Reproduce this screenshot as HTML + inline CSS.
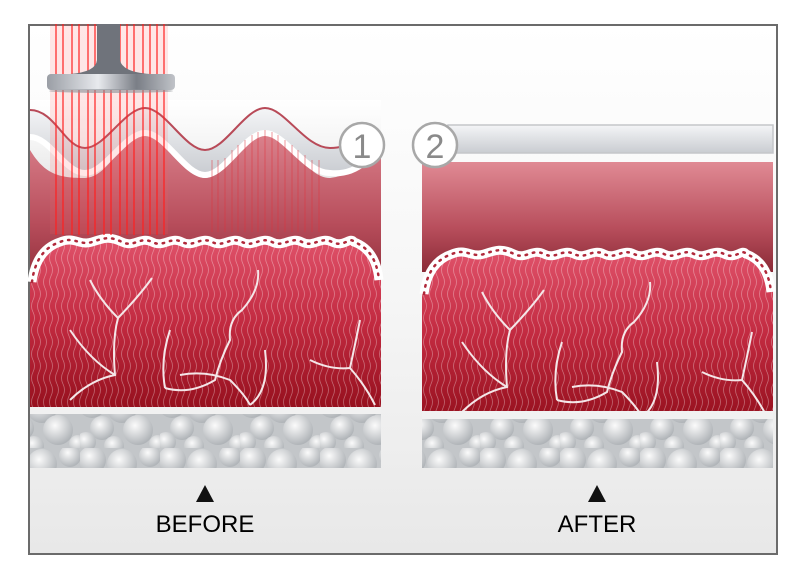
<!DOCTYPE html>
<html><head><meta charset="utf-8"><style>
html,body{margin:0;padding:0;background:#fff;}
svg{display:block;}
</style></head><body>
<svg width="800" height="582" viewBox="0 0 800 582" xmlns="http://www.w3.org/2000/svg">
<defs>
<linearGradient id="bg" x1="0" y1="0" x2="0" y2="1"><stop offset="0" stop-color="#fff"/><stop offset="0.5" stop-color="#f6f6f6"/><stop offset="1" stop-color="#e8e8e8"/></linearGradient>
<linearGradient id="pink" x1="0" y1="0" x2="0" y2="1"><stop offset="0" stop-color="#e08a94"/><stop offset="0.6" stop-color="#b84e5c"/><stop offset="1" stop-color="#8a2a36"/></linearGradient>
<linearGradient id="red" x1="0" y1="0" x2="0" y2="1"><stop offset="0" stop-color="#e0526a"/><stop offset="0.5" stop-color="#c22a40"/><stop offset="1" stop-color="#96101e"/></linearGradient>
<linearGradient id="gray" x1="0" y1="0" x2="0" y2="1"><stop offset="0" stop-color="#f4f5f7"/><stop offset="1" stop-color="#c9ccd1"/></linearGradient>
<linearGradient id="metal" x1="0" y1="0" x2="1" y2="0"><stop offset="0" stop-color="#9a9ea5"/><stop offset="0.4" stop-color="#e8eaee"/><stop offset="0.7" stop-color="#7a7e86"/><stop offset="1" stop-color="#c0c3c8"/></linearGradient>
<radialGradient id="ball" cx="0.4" cy="0.35" r="0.65"><stop offset="0" stop-color="#fbfbfb"/><stop offset="1" stop-color="#b0b4b8"/></radialGradient>
<pattern id="fib" width="6" height="24" patternUnits="userSpaceOnUse">
<path d="M3,0 Q6,6 3,12 Q0,18 3,24" fill="none" stroke="#fff" stroke-opacity="0.35" stroke-width="0.8"/>
</pattern>
<pattern id="fat" width="80" height="56" patternUnits="userSpaceOnUse">
<rect width="80" height="56" fill="#c3c6c9"/>
<circle cx="12" cy="12" r="14" fill="url(#ball)"/><circle cx="42" cy="16" r="15" fill="url(#ball)"/>
<circle cx="70" cy="8" r="11" fill="url(#ball)"/><circle cx="22" cy="36" r="12" fill="url(#ball)"/>
<circle cx="58" cy="38" r="15" fill="url(#ball)"/><circle cx="6" cy="50" r="10" fill="url(#ball)"/>
<circle cx="34" cy="54" r="10" fill="url(#ball)"/><circle cx="78" cy="52" r="9" fill="url(#ball)"/>
</pattern>
<g id="deep">
<path d="M0,408 L0,285 Q4,250 30,242 C44,236 50,246 62,242 S80,236 92,242 S110,236 122,242 S140,236 152,242 S170,236 182,242 S200,236 212,242 S230,236 242,242 S260,236 272,242 S290,236 302,242 S320,236 324,242 Q346,250 351,280 L351,408 Z" fill="url(#red)"/>
<path d="M0,408 L0,285 Q4,250 30,242 C44,236 50,246 62,242 S80,236 92,242 S110,236 122,242 S140,236 152,242 S170,236 182,242 S200,236 212,242 S230,236 242,242 S260,236 272,242 S290,236 302,242 S320,236 324,242 Q346,250 351,280 L351,408 Z" fill="url(#fib)"/>
<path d="M2,282 Q6,250 30,242 C44,236 50,246 62,242 S80,236 92,242 S110,236 122,242 S140,236 152,242 S170,236 182,242 S200,236 212,242 S230,236 242,242 S260,236 272,242 S290,236 302,242 S320,236 324,242 Q346,250 349,280" fill="none" stroke="#fff" stroke-width="9"/>
<path d="M2,282 Q6,250 30,242 C44,236 50,246 62,242 S80,236 92,242 S110,236 122,242 S140,236 152,242 S170,236 182,242 S200,236 212,242 S230,236 242,242 S260,236 272,242 S290,236 302,242 S320,236 324,242 Q346,250 349,280" fill="none" stroke="#b0283a" stroke-width="2.5" stroke-dasharray="1.5 6" stroke-linecap="round"/>
<g fill="none" stroke="#f4e6e8" stroke-width="2">
<path d="M40,400 Q60,380 85,375 Q82,340 88,318 Q70,300 60,280"/>
<path d="M88,318 Q110,295 122,278"/><path d="M85,375 Q60,360 40,330"/>
<path d="M135,388 Q130,360 140,330 M135,388 Q160,395 185,380 Q190,360 200,340 Q198,320 212,310 Q230,290 228,270"/>
<path d="M150,375 Q175,370 200,380 Q215,395 220,405 M220,405 Q240,390 235,350"/>
<path d="M280,360 Q300,370 320,368 Q335,385 345,405 M320,368 Q325,345 330,320"/>
</g>
</g>
</defs>
<rect x="0" y="0" width="800" height="582" fill="#fff"/>
<rect x="29" y="25" width="748" height="529" fill="url(#bg)" stroke="#6b6b6b" stroke-width="2"/>

<!-- LEFT -->
<rect x="30" y="120" width="351" height="170" fill="url(#pink)"/>
<path d="M30,150 C45,175 60,178 85,178 S125,130 145,130 S185,178 205,178 S245,130 265,130 S305,178 330,178 Q355,175 381,150 L381,100 L30,100 Z" fill="url(#bg)"/>
<path d="M30,110 C55,110 65,148 85,148 S125,108 145,108 S185,150 205,150 S245,108 265,108 S305,148 330,148 Q345,148 355,140 L360,165 Q345,178 330,173 C305,173 285,133 265,133 S225,175 205,175 S165,133 145,133 S105,173 85,173 S50,135 30,135 Z" fill="url(#gray)"/>
<path d="M30,110 C55,110 65,148 85,148 S125,108 145,108 S185,150 205,150 S245,108 265,108 S305,148 330,148 Q345,148 355,140" fill="none" stroke="#b84a58" stroke-width="2"/>
<path d="M30,137 C50,137 65,173 85,173 S125,133 145,133 S185,175 205,175 S245,133 265,133 S305,173 330,173 Q350,175 365,162" fill="none" stroke="#fff" stroke-width="6"/>
<use href="#deep" x="30" y="0"/>
<rect x="30" y="407" width="351" height="7" fill="#f1f1f1"/>
<rect x="30" y="414" width="351" height="54" fill="url(#fat)"/>
<!-- lasers -->
<rect x="50" y="24" width="118" height="210" fill="#ff6060" opacity="0.15"/>
<g stroke="#ff2020" stroke-width="1.5" opacity="0.8">
<path d="M56,24V235M63,24V235M72,24V235M79,24V235M88,24V235M95,24V235M104,24V235M111,24V235M120,24V235M127,24V235M134,24V235M143,24V235M150,24V235M157,24V235M164,24V235"/>
</g>
<g stroke="#e0303a" stroke-width="1" opacity="0.5">
<path d="M212,160V232M218,160V232M225,158V232M232,150V232M238,145V232M245,140V232M252,135V232M258,132V232M265,130V232M272,132V232M278,135V232M285,140V232M292,145V232M298,150V232M305,155V232M312,160V232M319,160V232"/>
</g>
<path d="M97,24 L120,24 L120,60 Q122,72 150,74 L100,74 L70,74 Q96,72 97,60 Z" fill="#6f737b"/>
<rect x="47" y="74" width="128" height="16" rx="4" fill="url(#metal)"/>
<ellipse cx="111" cy="91" rx="62" ry="2" fill="#8b8f96" opacity="0.6"/>
<circle cx="362" cy="145" r="22" fill="#fff" stroke="#a8a8a8" stroke-width="2.5"/>
<text x="362" y="158" text-anchor="middle" font-family="Liberation Sans, sans-serif" font-size="34" fill="#8a8a8a">1</text>

<!-- RIGHT -->
<rect x="422" y="162" width="351" height="110" fill="url(#pink)"/>
<rect x="448" y="125" width="325" height="28" fill="url(#gray)" stroke="#c4c6c9" stroke-width="1.5"/>
<use href="#deep" x="422" y="12"/>
<rect x="422" y="411" width="351" height="8" fill="#f1f1f1"/>
<rect x="422" y="419" width="351" height="49" fill="url(#fat)"/>
<circle cx="435" cy="145" r="22" fill="#fff" stroke="#a8a8a8" stroke-width="2.5"/>
<text x="435" y="158" text-anchor="middle" font-family="Liberation Sans, sans-serif" font-size="34" fill="#8a8a8a">2</text>

<!-- labels -->
<path d="M196,502 L205,485 L214,502 Z" fill="#111"/>
<path d="M588,502 L597,485 L606,502 Z" fill="#111"/>
<text x="205" y="532" text-anchor="middle" font-family="Liberation Sans, sans-serif" font-size="24" fill="#000">BEFORE</text>
<text x="597" y="532" text-anchor="middle" font-family="Liberation Sans, sans-serif" font-size="24" fill="#000">AFTER</text>
</svg>
</body></html>
